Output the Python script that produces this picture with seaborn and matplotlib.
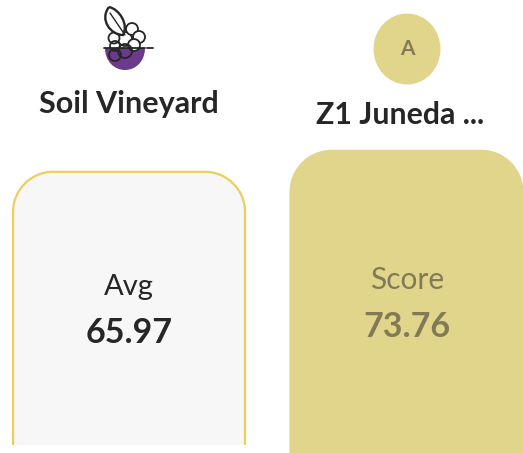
import matplotlib
matplotlib.use('Agg')
import matplotlib.pyplot as plt
from matplotlib.patches import Circle, PathPatch, Ellipse
from matplotlib.path import Path
import pandas as pd
import seaborn as sns

# values
names = ['Soil Vineyard', 'Z1 Juneda ...']
labels = ['Avg', 'Score']
scores = [65.97, 73.76]
score_text = ['65.97', '73.76']
fills = ['#F7F7F7', '#E1D58B']

sns.set_theme(style='white')
plt.rcParams['font.family'] = ['Lato', 'DejaVu Sans']

W, H = 523, 453
fig = plt.figure(figsize=(W / 100, H / 100), dpi=100, facecolor='white')
ax = fig.add_axes([0, 0, 1, 1])

df = pd.DataFrame({'name': names, 'score': scores})
sns.barplot(data=df, x='name', y='score', hue='name', palette=fills,
            width=0.836, legend=False, ax=ax)
ax.set_xlim(-0.465, 1.42)
ax.set_ylim(-33.6, 126.8)
ax.axis('off')

# overlay in pixel coords for the rounded cards and the icon
ov = fig.add_axes([0, 0, 1, 1])
ov.set_xlim(0, W)
ov.set_ylim(H, 0)
ov.axis('off')
ov.patch.set_alpha(0)


def rounded_top(x0, x1, top, bottom, r):
    k = r * 0.45
    verts = [(x0, bottom), (x0, top + r),
             (x0, top + k), (x0 + k, top), (x0 + r, top),
             (x1 - r, top),
             (x1 - k, top), (x1, top + k), (x1, top + r),
             (x1, bottom)]
    codes = [Path.MOVETO, Path.LINETO,
             Path.CURVE4, Path.CURVE4, Path.CURVE4,
             Path.LINETO,
             Path.CURVE4, Path.CURVE4, Path.CURVE4,
             Path.LINETO]
    return Path(verts, codes)


def to_px(x, y):
    px, py = ax.transData.transform((x, y))
    return px * W / fig.bbox.width, H - py * H / fig.bbox.height


cards = []
for bar in ax.patches:
    x0, top = to_px(bar.get_x(), bar.get_height())
    x1, _ = to_px(bar.get_x() + bar.get_width(), 0)
    cards.append((x0, x1, top))
    bar.set_visible(False)

# left card: outlined, stops short of the bottom edge
x0, x1, top = cards[0]
ov.add_patch(PathPatch(rounded_top(x0, x1, top, 445, 40), fc=fills[0], ec='none'))
ov.add_patch(PathPatch(rounded_top(x0, x1, top, 445, 40), fc='none', ec='#EBCF5A',
                       lw=1.6, capstyle='butt'))
# right card: solid, runs off the picture
x0, x1, top = cards[1]
ov.add_patch(PathPatch(rounded_top(x0 - 1, x1 + 1, top, 460, 42), fc=fills[1], ec='none'))

# card text
dark = '#262626'
olive = '#807B55'
ov.text(129, 287, labels[0], ha='center', va='center', fontsize=21, color=dark)
ov.text(129, 333, score_text[0], ha='center', va='center', fontsize=24.5,
        fontweight='bold', fontstyle='normal', color=dark)
ov.text(407, 280, labels[1], ha='center', va='center', fontsize=21.5, color=olive)
ov.text(407, 327, score_text[1], ha='center', va='center', fontsize=24.5,
        fontweight='bold', fontstyle='normal', color=olive)

# names
ov.text(129, 104, names[0], ha='center', va='center', fontsize=22, fontweight='bold', color=dark)
ov.text(400, 115, names[1], ha='center', va='center', fontsize=21.8, fontweight='bold', color=dark)

# avatar
ov.add_patch(Ellipse((407, 49), 67, 71, fc=fills[1], ec='none'))
ov.text(407, 49, 'A', ha='center', va='center', fontsize=15, fontweight='bold', color=olive)

# vineyard icon
ink = '#262626'
purple = '#6B3A8C'
bowl = Path([(105, 48), (105, 61), (114, 70), (125, 70), (136, 70), (145, 61), (145, 48), (105, 48)],
            [Path.MOVETO, Path.CURVE4, Path.CURVE4, Path.CURVE4, Path.CURVE4, Path.CURVE4, Path.CURVE4, Path.CLOSEPOLY])
ov.add_patch(PathPatch(bowl, fc=purple, ec='none', zorder=2))
grapes = [(125, 39, 7), (114, 38, 5.5), (132, 29, 6), (139, 37, 6),
          (134, 45, 6), (125, 51, 7), (115, 55, 6), (115, 46, 5)]
for gx, gy, gr in grapes:
    face = 'white' if gy < 46 else 'none'
    ov.add_patch(Circle((gx, gy), gr, fc=face, ec=ink, lw=1.3, zorder=3))
leaf = Path([(109, 7), (99, 20), (111, 35), (123, 35), (129, 24), (119, 9), (109, 7)],
            [Path.MOVETO, Path.CURVE4, Path.CURVE4, Path.CURVE4, Path.CURVE4, Path.CURVE4, Path.CURVE4])
ov.add_patch(PathPatch(leaf, fc='white', ec=ink, lw=1.7, zorder=4))
ov.plot([110, 125], [13, 35], color=ink, lw=1.0, zorder=5)
ov.plot([104, 145], [48, 48], color=ink, lw=1.3, zorder=5)
ov.plot([147, 153], [47.5, 47.5], color=ink, lw=1.3, zorder=5)

fig.savefig('out.png', dpi=100)
